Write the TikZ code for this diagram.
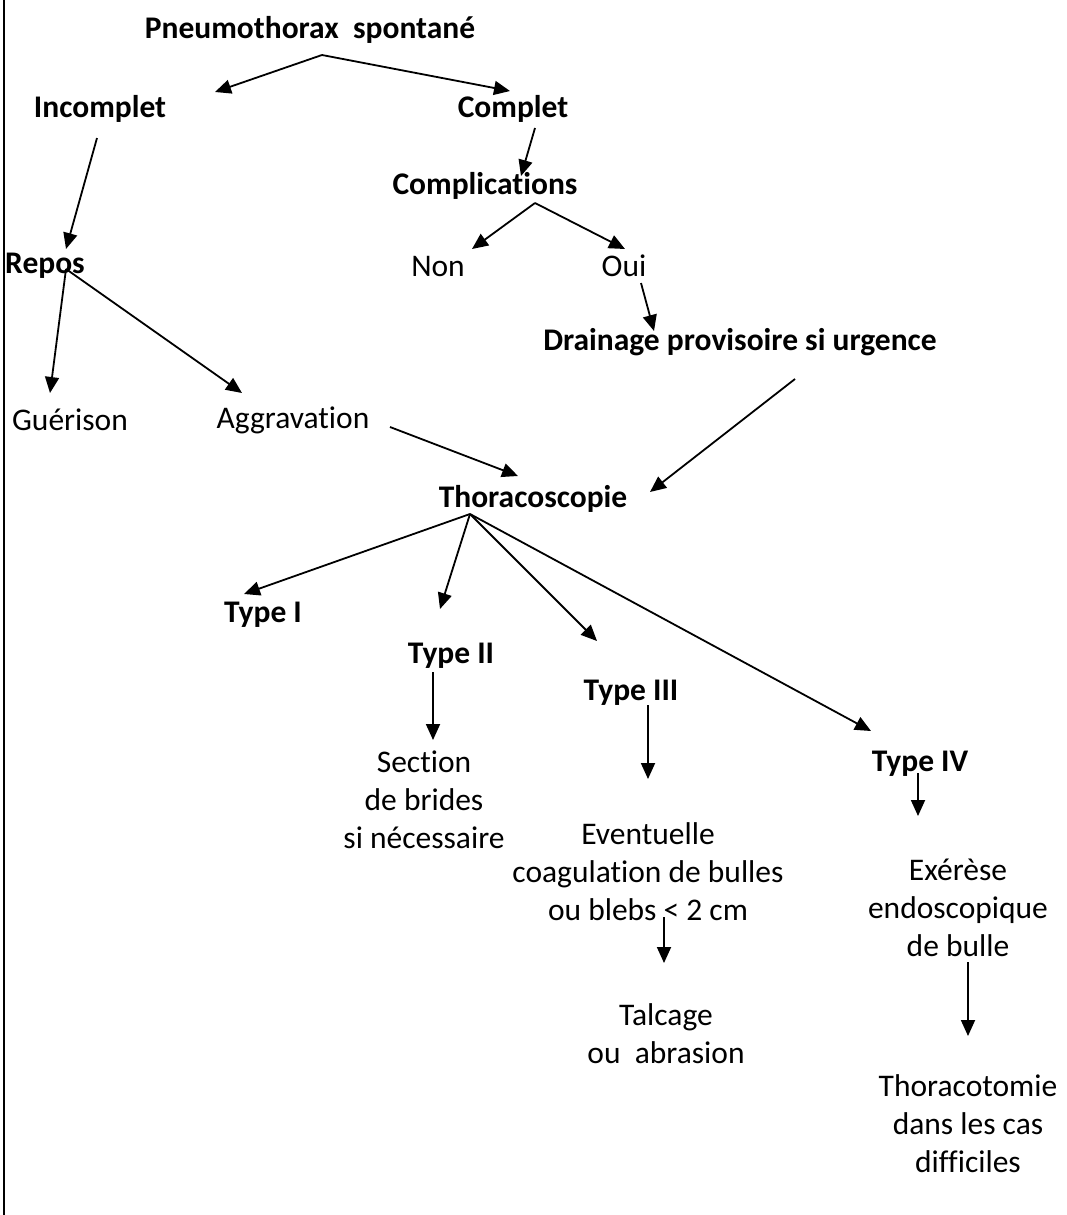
\documentclass[tikz,border=0pt]{standalone}
\usepackage{fontspec}
\setmainfont{Carlito}[Ligatures={NoCommon,NoRequired,NoContextual},RawFeature={-liga;-clig;-dlig;-calt;-rlig}]
\usetikzlibrary{arrows.meta}
\begin{document}
\begin{tikzpicture}[x=1pt,y=-1pt,
  lbl/.style={inner sep=0pt,font=\fontsize{31.5}{38}\selectfont},
  blbl/.style={lbl,font=\fontsize{31.5}{38}\selectfont\bfseries},
  mlbl/.style={lbl,align=center},
  arr/.style={line width=1.8pt,-{Triangle[length=16pt,width=14pt]}}]
\useasboundingbox (0,0) rectangle (1066,1215);
\draw[line width=2pt] (4,0) -- (4,1215);
% nodes
\node[blbl] (pn) at (310,30) {Pneumothorax\ \ spontané};
\node[blbl] (inc) at (100,109) {Incomplet};
\node[blbl] (comp) at (513,109) {Complet};
\node[blbl] (cpl) at (485,186) {Complications};
\node[blbl] (rep) at (45,266) {Repos};
\node[lbl] (non) at (438,266) {Non};
\node[lbl] (oui) at (624,266) {Oui};
\node[blbl] (dra) at (740,342) {Drainage provisoire si urgence};
\node[lbl] (gue) at (70,420) {Guérison};
\node[lbl] (agg) at (293,420) {Aggravation};
\node[blbl] (tho) at (533,499) {Thoracoscopie};
\node[blbl] (t1) at (263,615) {Type I};
\node[blbl] (t2) at (451,656) {Type II};
\node[blbl] (t3) at (631,693) {Type III};
\node[blbl] (t4) at (920,764) {Type IV};
\node[mlbl] (sec) at (424,800) {Section\\de brides\\si nécessaire};
\node[mlbl] (eve) at (648,872) {Eventuelle\\coagulation de bulles\\ou blebs < 2 cm};
\node[mlbl] (tal) at (666,1034) {Talcage\\ou\ \ abrasion};
\node[mlbl] (exe) at (958,908) {Exérèse\\endoscopique\\de bulle};
\node[mlbl] (tcm) at (968,1124) {Thoracotomie\\dans les cas\\difficiles};
% connector points
\coordinate (pnA) at (322,55);
\coordinate (cplA) at (535,203);
\coordinate (repA) at (66,269);
\coordinate (thoA) at (470,514);
% connectors
\draw[arr] (pnA) -- (215,92);
\draw[arr] (pnA) -- (510,91);
\draw[arr] (97,138) -- (66,249);
\draw[arr] (535,128) -- (521,176);
\draw[arr] (cplA) -- (472,249);
\draw[arr] (cplA) -- (625,249);
\draw[arr] (641,283) -- (654,331);
\draw[arr] (repA) -- (50,393);
\draw[arr] (repA) -- (242,393);
\draw[arr] (390,427) -- (518,476);
\draw[arr] (795,379) -- (650,492);
\draw[arr] (thoA) -- (244,594);
\draw[arr] (thoA) -- (440,609);
\draw[arr] (thoA) -- (597,641);
\draw[arr] (thoA) -- (871,731);
\draw[arr] (433,672) -- (433,740);
\draw[arr] (648,705) -- (648,779);
\draw[arr] (918,773) -- (918,816);
\draw[arr] (664,917) -- (664,963);
\draw[arr] (968,962) -- (968,1036);
\end{tikzpicture}
\end{document}
